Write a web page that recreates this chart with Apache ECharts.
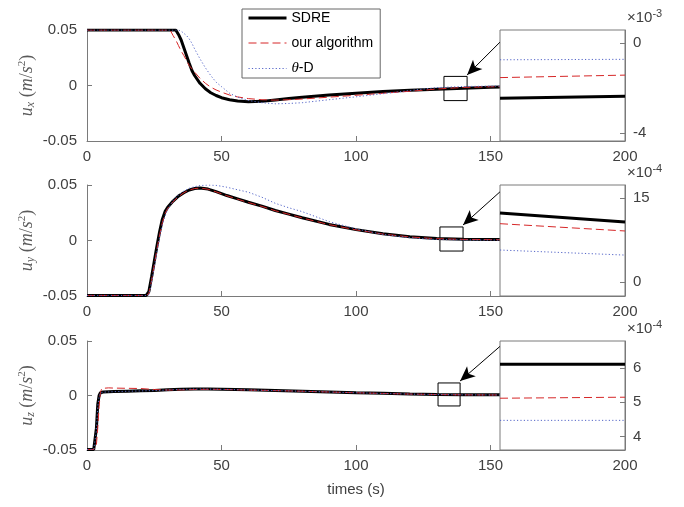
<!DOCTYPE html>
<html><head><meta charset="utf-8">
<script src="https://cdn.jsdelivr.net/npm/echarts@6/dist/echarts.min.js"></script>
<style>html,body{margin:0;padding:0;background:#fff}#c{width:684px;height:507px}</style>
</head><body><div id="c"></div>
<script>
// ---------- data ----------
const seriesNames = ['SDRE', 'our algorithm', 'θ-D'];
const xTickLabels = [0, 50, 100, 150, 200];
const mainYTicks = [-0.05, 0, 0.05];

// panel 1 : u_x
const uxT      = [0, 30, 31, 32, 33, 34, 35, 36, 37, 38, 39, 40, 42, 44, 46, 48, 50, 53, 56, 60, 65, 70, 75, 80, 90, 100, 110, 120, 130, 140, 150, 154];
const uxSDRE   = [0.05, 0.05, 0.05, 0.05, 0.05, 0.046, 0.041, 0.034, 0.027, 0.020, 0.0135, 0.009, 0.002, -0.003, -0.0065, -0.009, -0.011, -0.0128, -0.014, -0.0146, -0.0143, -0.013, -0.0118, -0.0106, -0.0086, -0.007, -0.0055, -0.0043, -0.0033, -0.0025, -0.0016, -0.0013];
const uxOurs   = [0.05, 0.05, 0.0495, 0.045, 0.041, 0.036, 0.031, 0.027, 0.0225, 0.018, 0.015, 0.012, 0.0065, 0.002, -0.0015, -0.004, -0.006, -0.0086, -0.0103, -0.0118, -0.0128, -0.0132, -0.0128, -0.0122, -0.0105, -0.0088, -0.007, -0.0052, -0.0032, -0.0017, -0.0012, -0.001];
const uxThetaD = [0.05, 0.05, 0.05, 0.05, 0.05, 0.05, 0.049, 0.047, 0.045, 0.042, 0.038, 0.033, 0.024, 0.016, 0.009, 0.003, -0.001, -0.007, -0.0105, -0.0135, -0.0155, -0.0165, -0.0162, -0.0155, -0.0128, -0.0102, -0.0074, -0.0045, -0.0019, -0.0009, -0.0006, -0.0005];

// panel 2 : u_y
const uyT      = [0, 22, 23, 24, 25, 26, 27, 28, 29, 30, 32, 34, 36, 38, 40, 42, 45, 48, 52, 56, 60, 65, 70, 75, 80, 90, 100, 110, 120, 130, 140, 150, 154];
const uySDRE   = [-0.0495, -0.0495, -0.046, -0.033, -0.019, -0.005, 0.008, 0.019, 0.026, 0.030, 0.0355, 0.040, 0.043, 0.0455, 0.0468, 0.0472, 0.0463, 0.044, 0.0405, 0.0375, 0.0345, 0.031, 0.027, 0.0238, 0.0205, 0.0145, 0.0098, 0.006, 0.0034, 0.0018, 0.0012, 0.0009, 0.0008];
const uyOurs   = [-0.0495, -0.0495, -0.048, -0.036, -0.022, -0.008, 0.005, 0.016, 0.024, 0.029, 0.035, 0.0395, 0.043, 0.0455, 0.0468, 0.0472, 0.0462, 0.0438, 0.0403, 0.0372, 0.0342, 0.0307, 0.0268, 0.0236, 0.0203, 0.0143, 0.0096, 0.0058, 0.0032, 0.0016, 0.001, 0.0008, 0.0007];
const uyThetaD = [-0.0495, -0.0495, -0.049, -0.038, -0.024, -0.010, 0.003, 0.014, 0.022, 0.028, 0.036, 0.041, 0.0445, 0.047, 0.0485, 0.0495, 0.050, 0.0497, 0.048, 0.0457, 0.0435, 0.039, 0.0335, 0.0295, 0.026, 0.017, 0.0105, 0.0055, 0.0025, 0.0009, 0.0005, 0.0004, 0.0004];

// panel 3 : u_z
const uzT      = [0, 2.5, 3, 3.5, 4, 4.5, 5, 5.5, 6, 8, 10, 15, 20, 25, 30, 35, 40, 45, 50, 60, 70, 80, 90, 100, 110, 120, 130, 140, 150, 154];
const uzSDRE   = [-0.0495, -0.0495, -0.049, -0.03, -0.008, 0.0, 0.0025, 0.003, 0.0032, 0.0034, 0.0036, 0.004, 0.0043, 0.0046, 0.0052, 0.0057, 0.006, 0.006, 0.0058, 0.0052, 0.0046, 0.004, 0.0033, 0.0026, 0.002, 0.0014, 0.001, 0.0007, 0.0006, 0.0006];
const uzOurs   = [-0.0495, -0.0495, -0.0495, -0.045, -0.03, -0.01, 0.003, 0.0065, 0.007, 0.007, 0.0068, 0.0066, 0.0064, 0.0055, 0.005, 0.0052, 0.0055, 0.0057, 0.0056, 0.005, 0.0045, 0.0039, 0.0032, 0.0025, 0.0019, 0.0013, 0.0009, 0.0006, 0.0005, 0.0005];
const uzThetaD = [-0.0495, -0.0495, -0.049, -0.032, -0.01, -0.001, 0.0022, 0.0029, 0.0031, 0.0033, 0.0035, 0.0039, 0.0042, 0.0045, 0.0051, 0.0056, 0.0059, 0.0059, 0.0057, 0.0051, 0.0045, 0.0039, 0.0032, 0.0025, 0.0019, 0.0013, 0.0009, 0.0006, 0.0005, 0.00045];

// zoomed insets (t window, values scaled by the exponent)
const insetT        = [133, 141];
const uxInSDRE      = [-2.46, -2.37];
const uxInOurs      = [-1.54, -1.43];
const uxInThetaD    = [-0.75, -0.73];
const uyInSDRE      = [12.3, 10.7];
const uyInOurs      = [10.4, 9.1];
const uyInThetaD    = [5.7, 4.8];
const uzInSDRE      = [6.12, 6.12];
const uzInOurs      = [5.12, 5.15];
const uzInThetaD    = [4.47, 4.47];
const uxInTicks = [-4, 0];
const uyInTicks = [0, 15];
const uzInTicks = [4, 5, 6];

// ---------- layout / style ----------
const colors = ['#000000', '#d62728', '#5566c8'];
const widths = [3, 1, 1];
const types = ['solid', [8, 4], [1.2, 2.2]];
const axisGray = '#7a7a7a';
const txtGray = '#404040';
const G = [{top: 30, h: 111}, {top: 185, h: 111}, {top: 341, h: 109}];
const panels = [
  {t: uxT, s: [uxSDRE, uxOurs, uxThetaD], is: [uxInSDRE, uxInOurs, uxInThetaD], ymin: -4.35, ymax: 0.57, ticks: uxInTicks, exp: '-3', sub: 'x',
   box: [132.7, 141.3, -0.0136, 0.0082], arrow: [[153.5, 0.039], [141.3, 0.0095]]},
  {t: uyT, s: [uySDRE, uyOurs, uyThetaD], is: [uyInSDRE, uyInOurs, uyInThetaD], ymin: -2.5, ymax: 17.3, ticks: uyInTicks, exp: '-4', sub: 'y',
   box: [131.2, 139.8, -0.0095, 0.0122], arrow: [[153.5, 0.0438], [139.8, 0.014]]},
  {t: uzT, s: [uzSDRE, uzOurs, uzThetaD], is: [uzInSDRE, uzInOurs, uzInThetaD], ymin: 3.6, ymax: 6.8, ticks: uzInTicks, exp: '-4', sub: 'z',
   box: [130.5, 138.7, -0.0096, 0.0115], arrow: [[153.5, 0.045], [138.7, 0.0133]]}
];

const grid = [], xAxis = [], yAxis = [], series = [], graphic = [];
const font = 'Liberation Sans, Arial, sans-serif';
const lab = '#5a5a5a';
panels.forEach((p, i) => {
  grid.push({left: 87, top: G[i].top, width: 538, height: G[i].h, z: 0});
  xAxis.push({gridIndex: i, type: 'value', min: xTickLabels[0], max: xTickLabels[xTickLabels.length - 1], interval: 50,
    axisLine: {show: true, onZero: false, lineStyle: {color: axisGray}}, axisTick: {show: true, inside: true, length: 5, lineStyle: {color: axisGray}},
    axisLabel: {color: txtGray, fontSize: 15, margin: 8, fontFamily: font}, splitLine: {show: false},
    name: i === 2 ? 'times (s)' : '', nameLocation: 'middle', nameGap: 32, nameMoveOverlap: false,
    nameTextStyle: {color: txtGray, fontSize: 15, fontFamily: font}});
  yAxis.push({gridIndex: i, type: 'value', min: mainYTicks[0], max: mainYTicks[2], interval: 0.05,
    axisLine: {show: true, onZero: false, lineStyle: {color: axisGray}}, axisTick: {show: true, inside: true, length: 5, lineStyle: {color: axisGray}},
    axisLabel: {color: txtGray, fontSize: 15, margin: 10, fontFamily: font, formatter: v => Math.abs(v) < 1e-9 ? '0' : v.toFixed(2)},
    splitLine: {show: false},
    name: '{i|u}{s|' + p.sub + '}{n| (}{i|m}{n|/}{i|s}{p|2}{n|)}', nameLocation: 'middle', nameGap: 50, nameRotate: 90, nameMoveOverlap: false,
    nameTextStyle: {color: lab, rich: {
      i: {fontFamily: 'Liberation Serif', fontStyle: 'italic', fontSize: 18, lineHeight: 20, color: lab},
      n: {fontFamily: 'Liberation Serif', fontSize: 18, lineHeight: 20, color: lab},
      s: {fontFamily: 'Liberation Serif', fontStyle: 'italic', fontSize: 12, lineHeight: 12, verticalAlign: 'bottom', color: lab},
      p: {fontFamily: 'Liberation Serif', fontSize: 11, lineHeight: 11, verticalAlign: 'top', color: lab}}}});
  p.s.forEach((vals, k) => {
    const s = {type: 'line', name: seriesNames[k], xAxisIndex: i, yAxisIndex: i, data: p.t.map((t, j) => [t, vals[j]]),
      symbol: 'none', showSymbol: false, z: 2 + k * 0.1, animation: false,
      lineStyle: {color: colors[k], width: widths[k], type: types[k]}, itemStyle: {color: colors[k]}};
    if (k === 0) {
      s.markArea = {silent: true, itemStyle: {color: 'rgba(0,0,0,0)', borderColor: '#000', borderWidth: 1},
        data: [[{coord: [p.box[0], p.box[3]]}, {coord: [p.box[1], p.box[2]]}]]};
      s.markLine = {silent: true, symbol: ['none', 'arrow'], symbolSize: [10, 15], label: {show: false},
        lineStyle: {color: '#000', width: 1, type: 'solid'},
        data: [[{coord: p.arrow[0]}, {coord: p.arrow[1]}]]};
    }
    series.push(s);
  });
});
panels.forEach((p, i) => {
  const gi = 3 + i;
  grid.push({left: 500, top: G[i].top, width: 125, height: G[i].h, show: true, backgroundColor: '#fff', borderColor: axisGray, borderWidth: 1, z: 3});
  xAxis.push({gridIndex: gi, type: 'value', min: insetT[0], max: insetT[1], show: false});
  yAxis.push({gridIndex: gi, type: 'value', position: 'right', min: p.ymin, max: p.ymax, z: 6,
    axisLine: {show: true, onZero: false, lineStyle: {color: axisGray}},
    axisTick: {show: true, inside: true, length: 5, customValues: p.ticks, lineStyle: {color: axisGray}},
    axisLabel: {color: txtGray, fontSize: 15, margin: 8, fontFamily: font, customValues: p.ticks},
    splitLine: {show: false}});
  p.is.forEach((vals, k) => {
    series.push({type: 'line', name: seriesNames[k] + ' ', xAxisIndex: gi, yAxisIndex: gi, data: insetT.map((t, j) => [t, vals[j]]),
      symbol: 'none', showSymbol: false, z: 5, animation: false,
      lineStyle: {color: colors[k], width: widths[k], type: types[k]}});
  });
  graphic.push({type: 'text', left: 627, top: G[i].top - 22, z: 10,
    style: {text: '{a|×10}{b|' + p.exp + '}', fill: txtGray,
      rich: {a: {fontSize: 15, fontFamily: font, lineHeight: 20, fill: txtGray, color: txtGray},
             b: {fontSize: 11, fontFamily: font, lineHeight: 11, verticalAlign: 'top', fill: txtGray, color: txtGray}}}});
});

const chart = echarts.init(document.getElementById('c'));
chart.setOption({
  animation: false,
  backgroundColor: '#fff',
  grid, xAxis, yAxis, series, graphic,
  legend: {show: true, orient: 'vertical', left: 242, top: 9,
    data: seriesNames.map((n, k) => ({name: n, lineStyle: {width: widths[k], color: colors[k], type: types[k]}})),
    itemWidth: 38, itemHeight: 14, itemGap: 11,
    padding: [2, 7, 2, 5], borderColor: '#666', borderWidth: 1, backgroundColor: '#fff', z: 8,
    itemStyle: {opacity: 0, borderWidth: 0},
    formatter: n => n === 'θ-D' ? '{g|θ}-D' : n,
    textStyle: {fontSize: 14, color: '#000', fontFamily: font,
      rich: {g: {fontStyle: 'italic', fontFamily: 'Liberation Serif', fontSize: 15, color: '#000'}}}}
});
</script></body></html>
